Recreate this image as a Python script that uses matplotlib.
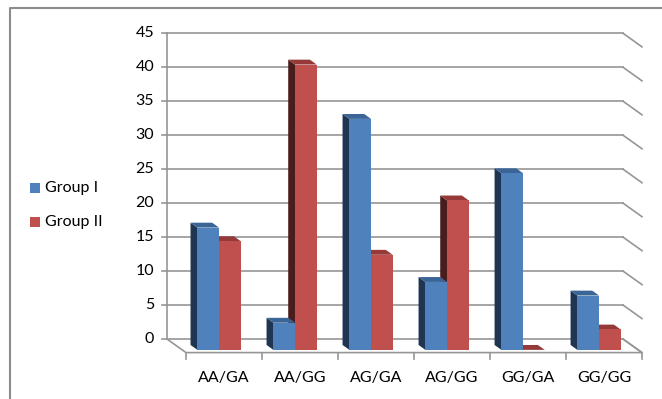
import matplotlib
matplotlib.use('Agg')
import matplotlib.pyplot as plt
from matplotlib.patches import Polygon, Rectangle

# ── Data ──────────────────────────────────────────────────────────────────────
categories = ["AA/GA", "AA/GG", "AG/GA", "AG/GG", "GG/GA", "GG/GG"]
group1 = [18, 4, 34, 10, 26, 8]
group2 = [16, 42, 14, 22, 0, 3]
series_names = ["Group I", "Group II"]
y_ticks = list(range(0, 50, 5))

# ── Palette ───────────────────────────────────────────────────────────────────
BLUE = ("#4F81BD", "#1F3552", "#3B6597")   # front, side, top
RED = ("#C0504D", "#4A1D1D", "#953A38")
GRID = "#969696"
FONT = "Lato"
FS = 11.5

# ── Oblique projection (Excel-like 3-D) ───────────────────────────────────────
DX, DY = 0.25, -2.0          # shift of the front plane vs. the back wall
D_BACK, D_FRONT = 0.44, 0.80  # bar depth
BAR_W = 0.285
GRP_MID = 0.485


def P(x, v, d):
    return (x + DX * d, v + DY * d)


def draw_bar(ax, x0, h, cols, parts):
    front, side, top = cols
    x1 = x0 + BAR_W
    if "side" in parts:
        ax.add_patch(Polygon([P(x0, 0, D_FRONT), P(x0, h, D_FRONT),
                              P(x0, h, D_BACK), P(x0, 0, D_BACK)],
                             closed=True, fc=side, ec='none', zorder=3))
    if "top" in parts:
        ax.add_patch(Polygon([P(x0, h, D_FRONT), P(x1, h, D_FRONT),
                              P(x1, h, D_BACK), P(x0, h, D_BACK)],
                             closed=True, fc=top, ec='none', zorder=3))
    if "front" in parts and h > 0:
        ax.add_patch(Polygon([P(x0, 0, D_FRONT), P(x1, 0, D_FRONT),
                              P(x1, h, D_FRONT), P(x0, h, D_FRONT)],
                             closed=True, fc=front, ec='none', zorder=3))


fig = plt.figure(figsize=(6.62, 3.99), dpi=100)
fig.patch.set_facecolor("white")
ax = fig.add_axes([0, 0, 1, 1])
ax.set_xlim(-2.197, 6.513)
ax.set_ylim(-8.83, 49.9)
ax.axis('off')

n = len(categories)

# back wall gridlines + right-hand diagonals
for v in y_ticks:
    (xa, ya), (xb, yb) = P(0, v, 0), P(n, v, 0)
    ax.plot([xa, xb], [ya, yb], color=GRID, lw=1.2, zorder=1)
    (xc, yc) = P(n, v, 1)
    ax.plot([xb, xc], [yb, yc], color=GRID, lw=1.2, zorder=1)
    # tick to the left of the value axis
    ax.plot([xa - 0.06, xa], [ya, ya], color=GRID, lw=1.2, zorder=1)
    ax.text(-0.17, v, str(v), ha='right', va='center', fontsize=FS,
            family=FONT, color="black")

# value axis
ax.plot([0, 0], [0, y_ticks[-1]], color=GRID, lw=1.2, zorder=1)

# floor
fl = [P(0, 0, 0), P(0, 0, 1), P(n, 0, 1), P(n, 0, 0)]
ax.plot([p[0] for p in fl], [p[1] for p in fl], color=GRID, lw=1.2, zorder=2)

# category ticks and labels on the front edge
for k in range(n + 1):
    x, y = P(k, 0, 1)
    ax.plot([x, x], [y, y - 0.9], color=GRID, lw=1.2, zorder=2)
for i, c in enumerate(categories):
    x, _ = P(i + 0.5, 0, 1)
    ax.text(x, -5.75, c, ha='center', va='center', fontsize=FS,
            family=FONT, color="black")

# bars
for i in range(n):
    xb = i + GRP_MID - BAR_W
    xr = i + GRP_MID
    draw_bar(ax, xr, group2[i], RED, ("side", "top"))
    draw_bar(ax, xb, group1[i], BLUE, ("side", "top", "front"))
    draw_bar(ax, xr, group2[i], RED, ("front",))

# legend (left side)
for name, col, ypx in zip(series_names, (BLUE[0], RED[0]), (188, 222)):
    fig.patches.append(Rectangle((30 / 662, 1 - (ypx + 5) / 399), 10 / 662, 10 / 399,
                                 transform=fig.transFigure, fc=col, ec='none'))
    fig.text(45 / 662, 1 - ypx / 399, name, ha='left', va='center',
             fontsize=FS, family=FONT, color="black")

# outer frame (only top and left edges visible)
fig.add_artist(plt.Line2D([10 / 662, 10 / 662, 1], [0, 1 - 8 / 399, 1 - 8 / 399],
                          transform=fig.transFigure, color="#8C8C8C", lw=1.5))

fig.savefig("out.png", dpi=100, facecolor="white")
